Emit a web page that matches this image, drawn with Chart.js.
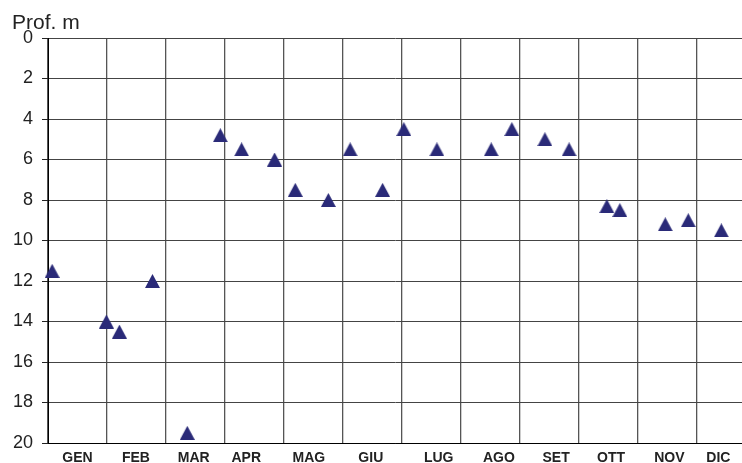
<!DOCTYPE html>
<html>
<head>
<meta charset="utf-8">
<script src="https://cdn.jsdelivr.net/npm/chart.js@4"></script>
<style>
  html, body { margin: 0; padding: 0; background: #fff; overflow: hidden; }
  canvas { display: block; }
</style>
</head>
<body>
<canvas id="profChart" width="742" height="463"></canvas>
<script>
// months on the x axis, and sampling dates as fractional months from 1 Jan
const months = ['GEN', 'FEB', 'MAR', 'APR', 'MAG', 'GIU', 'LUG', 'AGO', 'SET', 'OTT', 'NOV', 'DIC'];
const sampleMonth = [0.07, 0.99, 1.21, 1.77, 2.36, 2.92, 3.28, 3.84, 4.19, 4.75, 5.12, 5.67,
    6.03, 6.59, 7.51, 7.86, 8.42, 8.83, 9.47, 9.69, 10.46, 10.85, 11.41];
// depth (m)
const depth = [11.5, 14, 14.5, 12, 19.5, 4.8, 5.5, 6, 7.5, 8, 5.5, 7.5,
    4.5, 5.5, 5.5, 4.5, 5, 5.5, 8.3, 8.5, 9.2, 9, 9.5];
const depthTicks = [0, 2, 4, 6, 8, 10, 12, 14, 16, 18, 20];

// where the month names sit (they are not exactly centred in the original)
const monthLabelPos = [0.5, 1.49, 2.47, 3.36, 4.42, 5.47, 6.62, 7.64, 8.61, 9.54, 10.53, 11.36];

const markColor = '#2a2a78';
const gridColor = '#555';
const textColor = '#222';

// triangle marker, centred on its bounding box
function triangleMarker(w, h) {
    const c = document.createElement('canvas');
    c.width = w;
    c.height = h;
    const g = c.getContext('2d');
    g.fillStyle = markColor;
    g.beginPath();
    g.moveTo(w / 2, 0);
    g.lineTo(w, h);
    g.lineTo(0, h);
    g.closePath();
    g.fill();
    return c;
}

const titlePlugin = {
    id: 'profTitle',
    afterDraw(chart) {
        const ctx = chart.ctx;
        ctx.save();
        ctx.font = '21px "Liberation Sans", Arial, sans-serif';
        ctx.fillStyle = textColor;
        ctx.textBaseline = 'alphabetic';
        ctx.fillText('Prof. m', 12, 29);
        ctx.restore();
    }
};

const points = sampleMonth.map((m, i) => ({ x: m, y: depth[i] }));
const nGrid = months.length;

new Chart(document.getElementById('profChart').getContext('2d'), {
    type: 'scatter',
    data: {
        datasets: [{
            data: points,
            pointStyle: triangleMarker(15, 14),
            pointRadius: 8,
            pointHoverRadius: 8,
            clip: false
        }]
    },
    options: {
        responsive: false,
        animation: false,
        layout: { autoPadding: false, padding: { top: 38, right: 0, left: 0, bottom: 0 } },
        plugins: { legend: { display: false }, tooltip: { enabled: false } },
        scales: {
            x: {
                type: 'linear',
                min: 0,
                max: 11.76,
                afterBuildTicks: (scale) => {
                    const t = [];
                    for (let i = 0; i < nGrid; i++) t.push({ value: i });
                    monthLabelPos.forEach((v) => t.push({ value: v }));
                    scale.ticks = t;
                },
                afterFit: (scale) => {
                    scale.height = 20;
                    scale.paddingLeft = 0;
                    scale.paddingRight = 0;
                },
                border: { display: true, color: '#000', width: 1 },
                grid: {
                    color: (c) => (c.index < nGrid ? gridColor : 'transparent'),
                    lineWidth: 1.3,
                    tickLength: 0
                },
                ticks: {
                    autoSkip: false,
                    maxRotation: 0,
                    padding: 7,
                    color: textColor,
                    font: { family: '"Liberation Sans", Arial, sans-serif', size: 14, weight: 'bold' },
                    callback: (v, i) => (i >= nGrid ? months[i - nGrid] : '')
                }
            },
            y: {
                reverse: true,
                min: 0,
                max: 20,
                afterFit: (scale) => { scale.width = 48; },
                border: { display: true, color: '#000', width: 1 },
                grid: {
                    color: (c) => (depthTicks.includes(c.tick.value) ? '#444' : 'transparent'),
                    tickColor: '#222',
                    tickLength: 6,
                    lineWidth: 1
                },
                ticks: {
                    stepSize: 1,
                    padding: 9,
                    color: textColor,
                    font: { family: '"Liberation Sans", Arial, sans-serif', size: 18 },
                    callback: (v) => (depthTicks.includes(v) ? String(v) : '')
                }
            }
        }
    },
    plugins: [titlePlugin]
});
</script>
</body>
</html>
